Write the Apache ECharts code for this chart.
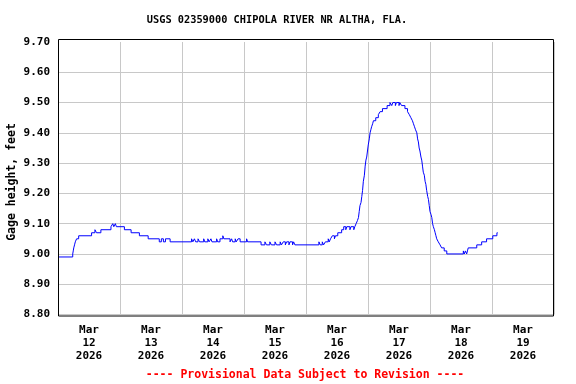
<!DOCTYPE html>
<html>
<head>
<meta charset="utf-8">
<script src="https://cdn.jsdelivr.net/npm/echarts@6/dist/echarts.min.js"></script>
<style>html,body{margin:0;padding:0;background:#fff;}#c{width:576px;height:384px;}</style>
</head>
<body>
<div id="c"></div>
<script>
// Hours since Mar 12 2026 00:00 at which the gage reading changes, and the new reading (feet)
var hours = [0,5.7,5.9,6.1,6.4,6.7,7.2,8.0,13.0,14.3,14.9,16.6,20.5,21.2,21.6,22.2,22.6,25.7,28.3,31.5,34.9,
  39.2,40.0,40.8,41.6,43.4,51.7,52.2,52.8,53.3,54.2,54.8,56.4,56.8,58.0,58.5,59.2,59.6,61.4,61.8,62.7,63.8,64.2,66.6,
  67.2,67.6,68.6,69.0,69.7,70.5,73.0,73.4,78.6,80.1,80.7,82.0,82.6,84.0,84.6,86.0,86.5,87.2,88.0,88.5,89.4,89.8,90.8,91.2,91.7,
  101.0,101.5,102.3,102.8,103.5,104.6,105.0,105.5,106.2,107.0,107.4,108.3,109.8,110.6,111.4,111.8,113.0,113.4,114.5,114.9,115.4,
  115.9,116.3,116.6,116.9,117.3,117.6,117.9,118.2,118.6,118.9,119.2,119.5,119.8,120.1,120.5,120.8,121.1,121.4,121.8,122.1,123.0,124.0,124.7,125.6,127.4,
  128.5,129.2,129.6,130.6,131.0,132.0,132.3,133.0,134.3,135.3,136.0,136.6,137.2,137.6,138.0,138.4,138.9,139.2,139.5,139.8,140.1,140.5,140.8,141.1,141.4,141.8,
  142.1,142.4,142.7,143.1,143.4,143.7,144.0,144.4,144.7,145.0,145.3,145.7,146.0,146.3,146.6,147.2,147.9,148.5,149.5,150.5,
  156.9,157.3,157.7,158.2,158.5,158.8,162.1,164.0,165.9,168.3,169.9,170.2];
var gage = [8.99,9.00,9.01,9.02,9.03,9.04,9.05,9.06,9.07,9.08,9.07,9.08,9.09,9.10,9.09,9.10,9.09,9.08,9.07,9.06,9.05,
  9.04,9.05,9.04,9.05,9.04,9.05,9.04,9.05,9.04,9.05,9.04,9.05,9.04,9.05,9.04,9.05,9.04,9.05,9.04,9.05,9.06,9.05,9.04,
  9.05,9.04,9.05,9.04,9.05,9.04,9.05,9.04,9.03,9.04,9.03,9.04,9.03,9.04,9.03,9.04,9.03,9.04,9.03,9.04,9.03,9.04,9.03,9.04,9.03,
  9.04,9.03,9.04,9.03,9.04,9.05,9.04,9.05,9.06,9.05,9.06,9.07,9.08,9.09,9.08,9.09,9.08,9.09,9.08,9.09,9.10,
  9.11,9.12,9.14,9.16,9.17,9.19,9.21,9.24,9.26,9.29,9.31,9.32,9.34,9.36,9.38,9.40,9.41,9.42,9.43,9.44,9.45,9.46,9.47,9.48,9.49,
  9.50,9.49,9.50,9.49,9.50,9.49,9.50,9.49,9.48,9.47,9.46,9.45,9.44,9.43,9.42,9.41,9.40,9.38,9.37,9.35,9.34,9.32,9.31,9.29,9.27,9.26,
  9.24,9.23,9.21,9.19,9.18,9.16,9.14,9.13,9.12,9.10,9.09,9.08,9.07,9.06,9.05,9.04,9.03,9.02,9.01,9.00,
  9.01,9.00,9.01,9.00,9.01,9.02,9.03,9.04,9.05,9.06,9.07,9.07];
var dayLabels = ['Mar\n12\n2026','Mar\n13\n2026','Mar\n14\n2026','Mar\n15\n2026','Mar\n16\n2026','Mar\n17\n2026','Mar\n18\n2026','Mar\n19\n2026'];
var yTicks = [8.8, 9.7, 0.1];

var FONT = '"DejaVu Sans Mono", "Liberation Mono", monospace';
var data = hours.map(function(h, i){ return [h, gage[i]]; });

var chart = echarts.init(document.getElementById('c'), null, {renderer:'canvas'});
chart.setOption({
  animation: false,
  backgroundColor: '#fff',
  grid: {left: 58, top: 42, width: 496, height: 272.5, show: false, containLabel: false},
  xAxis: [
    {type: 'value', min: 0, max: 192, interval: 24,
     axisLine: {show: false}, axisTick: {show: false}, axisLabel: {show: false},
     splitLine: {show: true, lineStyle: {color: '#c8c8c8', width: 1}}},
    {type: 'category', data: dayLabels, boundaryGap: true, position: 'bottom',
     axisLine: {show: false}, axisTick: {show: false}, splitLine: {show: false},
     axisLabel: {show: true, interval: 0, margin: 9, color: '#000', fontFamily: FONT, fontSize: 11, fontWeight: 'bold', lineHeight: 13}}
  ],
  yAxis: {type: 'value', min: yTicks[0], max: yTicks[1], interval: yTicks[2],
    axisLine: {show: false}, axisTick: {show: false},
    splitLine: {show: true, showMaxLine: false, lineStyle: {color: '#c8c8c8', width: 1}},
    axisLabel: {margin: 8, color: '#000', fontFamily: FONT, fontSize: 11, fontWeight: 'bold',
      formatter: function(v){ return v.toFixed(2); }}},
  series: [{type: 'line', xAxisIndex: 0, step: 'end', showSymbol: false, data: data,
    lineStyle: {color: '#0000ff', width: 1}, itemStyle: {color: '#0000ff'}}],
  graphic: [
    {type: 'rect', shape: {x: 58.5, y: 39.5, width: 495, height: 276.5}, style: {fill: null, stroke: '#000', lineWidth: 1}, z: 100},
    {type: 'text', x: 277, y: 20, style: {text: 'USGS 02359000 CHIPOLA RIVER NR ALTHA, FLA.', fill: '#000', font: 'bold 10.3px ' + FONT, textAlign: 'center', textVerticalAlign: 'middle'}},
    {type: 'text', x: 12, y: 182, rotation: Math.PI / 2, style: {text: 'Gage height, feet', fill: '#000', font: 'bold 11.5px ' + FONT, textAlign: 'center', textVerticalAlign: 'middle'}},
    {type: 'text', x: 305, y: 375, style: {text: '---- Provisional Data Subject to Revision ----', fill: '#ff0000', font: 'bold 11.5px ' + FONT, textAlign: 'center', textVerticalAlign: 'middle'}}
  ]
});
</script>
</body>
</html>
